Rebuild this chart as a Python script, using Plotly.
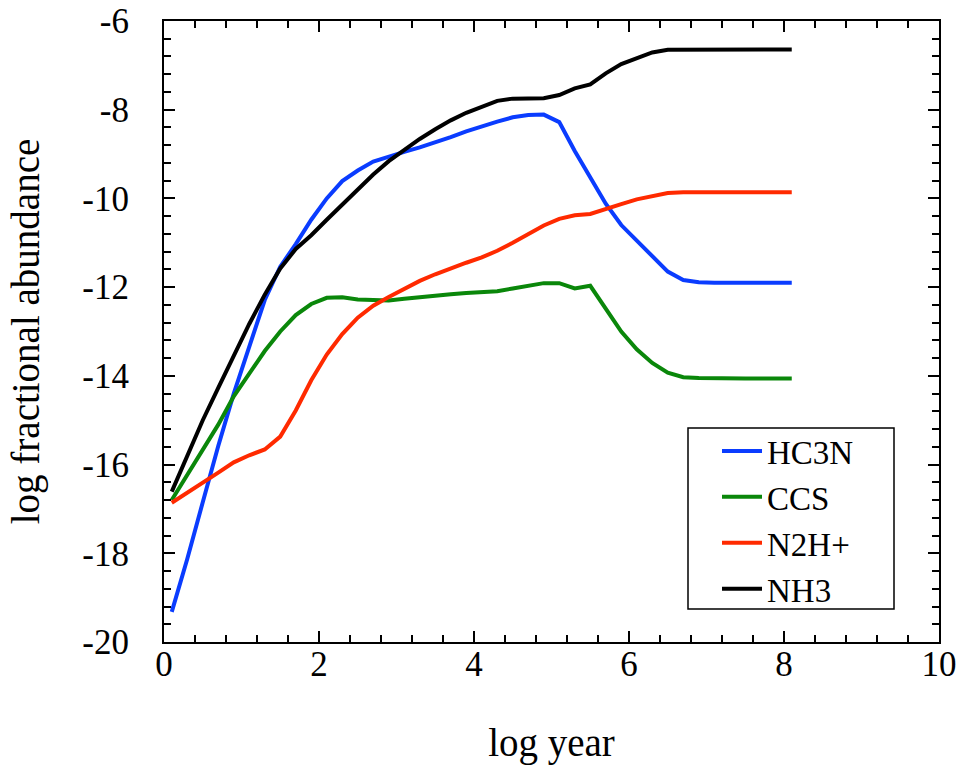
import plotly.graph_objects as go

# log time grid (years)
log_year = [0.1, 0.3, 0.5, 0.7, 0.9, 1.1, 1.3, 1.5, 1.7, 1.9,
            2.1, 2.3, 2.5, 2.7, 2.9, 3.1, 3.3, 3.5, 3.7, 3.9,
            4.1, 4.3, 4.5, 4.7, 4.9, 5.1, 5.3, 5.5, 5.7, 5.9,
            6.1, 6.3, 6.5, 6.7, 6.9, 7.1, 7.3, 7.5, 7.7, 7.9, 8.1]

hc3n = [-19.32, -18.13, -16.85, -15.58, -14.40, -13.33, -12.29, -11.54, -11.03, -10.48,
        -10.00, -9.61, -9.37, -9.17, -9.05, -8.95, -8.85, -8.74, -8.62, -8.49,
        -8.37, -8.27, -8.17, -8.12, -8.11, -8.28, -8.93, -9.53, -10.12, -10.60,
        -10.94, -11.29, -11.65, -11.84, -11.89, -11.90, -11.90, -11.90, -11.90, -11.90, -11.90]

ccs = [-16.80, -16.24, -15.68, -15.10, -14.46, -13.94, -13.44, -13.00, -12.63, -12.38,
       -12.24, -12.23, -12.28, -12.29, -12.30, -12.26, -12.22, -12.19, -12.16, -12.13,
       -12.12, -12.09, -12.03, -11.97, -11.91, -11.91, -12.03, -11.97, -12.50, -13.00,
       -13.40, -13.71, -13.93, -14.03, -14.05, -14.06, -14.06, -14.06, -14.06, -14.06, -14.06]

n2hp = [-16.86, -16.64, -16.41, -16.18, -15.95, -15.79, -15.66, -15.37, -14.78, -14.10,
        -13.52, -13.06, -12.69, -12.42, -12.22, -12.03, -11.86, -11.71, -11.57, -11.45,
        -11.33, -11.18, -11.00, -10.80, -10.61, -10.46, -10.38, -10.35, -10.25, -10.13,
        -10.02, -9.94, -9.88, -9.86, -9.86, -9.86, -9.86, -9.86, -9.86, -9.86, -9.86]

nh3 = [-16.61, -15.81, -15.00, -14.27, -13.55, -12.83, -12.17, -11.58, -11.14, -10.83,
       -10.48, -10.14, -9.79, -9.46, -9.16, -8.90, -8.66, -8.44, -8.24, -8.07,
       -7.93, -7.80, -7.75, -7.74, -7.74, -7.67, -7.52, -7.43, -7.18, -6.97,
       -6.83, -6.71, -6.65, -6.65, -6.64, -6.64, -6.64, -6.64, -6.64, -6.64, -6.64]

species = ["HC3N", "CCS", "N2H+", "NH3"]
colors = ["#0a3cff", "#0a870a", "#ff2a00", "#000000"]
series = [hc3n, ccs, n2hp, nh3]

x_ticks = [0, 2, 4, 6, 8, 10]
x_tick_labels = ["0", "2", "4", "6", "8", "10"]
y_ticks = [-20, -18, -16, -14, -12, -10, -8, -6]
y_tick_labels = ["-20", "-18", "-16", "-14", "-12", "-10", "-8", "-6"]

SERIF = "Liberation Serif"

fig = go.Figure()
for name, col, vals in zip(species, colors, series):
    fig.add_trace(go.Scatter(x=log_year, y=vals, mode="lines", name=name,
                             line=dict(color=col, width=4)))

axis_common = dict(
    showgrid=False, zeroline=False,
    showline=True, linecolor="black", linewidth=2, mirror="ticks",
    ticks="inside", ticklen=11, tickwidth=1.5, tickcolor="black",
    tickfont=dict(family=SERIF, size=35, color="black"),
    minor=dict(ticks="inside", ticklen=7, tickwidth=1.5, tickcolor="black", dtick=0.4),
)

fig.update_xaxes(range=[0, 10], tickmode="array", tickvals=x_ticks, ticktext=x_tick_labels,
                 ticklabelstandoff=-10,
                 title=dict(text="log year", font=dict(family=SERIF, size=39, color="black"),
                            standoff=46),
                 **axis_common)
fig.update_yaxes(range=[-20, -6], tickmode="array", tickvals=y_ticks, ticktext=y_tick_labels,
                 ticklabelstandoff=26,
                 title=dict(text="log fractional abundance",
                            font=dict(family=SERIF, size=39, color="black"), standoff=31),
                 **axis_common)

# legend frame drawn as a paper-space rectangle around the legend entries
fig.add_shape(type="rect", xref="paper", yref="paper",
              x0=(688 - 164) / 775, x1=(894 - 164) / 775,
              y0=(642 - 609) / 621, y1=(642 - 428) / 621,
              line=dict(color="black", width=1.5), fillcolor="rgba(0,0,0,0)")

fig.update_layout(
    width=962, height=773,
    margin=dict(l=164, r=23, t=21, b=131, autoexpand=False),
    paper_bgcolor="white", plot_bgcolor="white",
    font=dict(family=SERIF, color="black"),
    showlegend=True,
    legend=dict(x=(717 - 164) / 775, y=(642 - 423) / 621, xanchor="left", yanchor="top",
                bgcolor="rgba(0,0,0,0)", borderwidth=0,
                font=dict(family=SERIF, size=33, color="black"),
                itemwidth=40, tracegroupgap=0),
)

fig.write_html("out.html")
